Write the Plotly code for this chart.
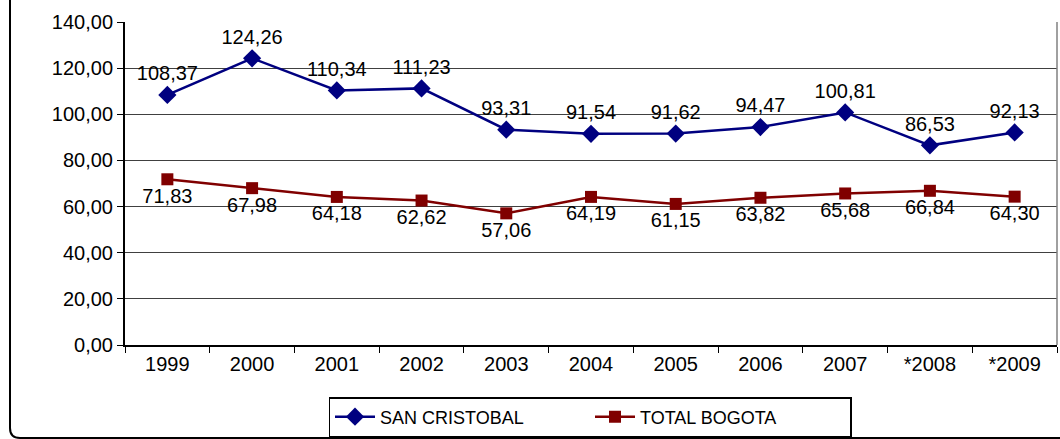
import plotly.graph_objects as go

# Data
years = ["1999", "2000", "2001", "2002", "2003", "2004", "2005", "2006", "2007", "*2008", "*2009"]
san_cristobal = [108.37, 124.26, 110.34, 111.23, 93.31, 91.54, 91.62, 94.47, 100.81, 86.53, 92.13]
total_bogota = [71.83, 67.98, 64.18, 62.62, 57.06, 64.19, 61.15, 63.82, 65.68, 66.84, 64.30]
y_ticks = [0, 20, 40, 60, 80, 100, 120, 140]


def fmt(v):
    return f"{v:.2f}".replace(".", ",")


font_family = "Liberation Sans, Arial, sans-serif"
fs = 20

fig = go.Figure()
fig.add_trace(go.Scatter(
    x=years, y=san_cristobal, name="SAN CRISTOBAL",
    mode="lines+markers+text",
    text=[fmt(v) for v in san_cristobal], textposition="top center",
    textfont=dict(size=fs, color="black"),
    line=dict(color="#000080", width=2.5),
    marker=dict(symbol="diamond", size=14, color="#000080"),
))
fig.add_trace(go.Scatter(
    x=years, y=total_bogota, name="TOTAL BOGOTA",
    mode="lines+markers+text",
    text=[fmt(v) for v in total_bogota], textposition="bottom center",
    textfont=dict(size=fs, color="black"),
    line=dict(color="#800000", width=2.5),
    marker=dict(symbol="square", size=12, color="#800000"),
))

# plot area in pixels: left 125, right 1057, top 22, bottom 345
W, H = 1060, 439
L, R, T, B = 125, 3, 22, 94
pw, ph = W - L - R, H - T - B


def px_x(x):
    return (x - L) / pw


def px_y(y):
    return (H - B - y) / ph


x0, xr = px_x(10), px_x(1062)
ytop, ybot = px_y(-5), px_y(438)
rx, ry = 10 / pw, 10 / ph
fig.add_shape(
    type="path", xref="paper", yref="paper",
    path=f"M {x0},{ytop} L {x0},{ybot + ry} Q {x0},{ybot} {x0 + rx},{ybot} L {xr},{ybot}",
    line=dict(color="black", width=2),
)
# right border of plot area
fig.add_shape(type="line", xref="paper", yref="paper", x0=1, x1=1, y0=0, y1=1,
              line=dict(color="#808080", width=1.5))

fig.update_xaxes(
    type="category", range=[-0.5, 10.5],
    showline=True, linecolor="black", linewidth=2,
    ticks="outside", tickson="boundaries", ticklen=6, tickcolor="black",
    tickfont=dict(size=fs, color="black"), showgrid=False,
)
fig.update_yaxes(
    range=[0, 140], tickvals=y_ticks, ticktext=[fmt(v) for v in y_ticks],
    showline=True, linecolor="black", linewidth=2,
    ticks="outside", ticklen=6, tickcolor="black",
    tickfont=dict(size=fs, color="black"),
    showgrid=True, gridcolor="#404040", gridwidth=1, zeroline=False,
)
fig.update_layout(
    width=W, height=H,
    margin=dict(l=L, r=R, t=T, b=B, autoexpand=False),
    plot_bgcolor="white", paper_bgcolor="white",
    font=dict(family=font_family, color="black"),
    showlegend=True,
    legend=dict(
        orientation="h", x=px_x(590), xanchor="center", y=px_y(397), yanchor="top",
        bordercolor="black", borderwidth=1.5, font=dict(size=18),
        itemwidth=40, tracegroupgap=0, entrywidth=205,
    ),
)
fig.write_html("out.html", config={"displayModeBar": False},
               post_script="document.body.style.margin='0';")
